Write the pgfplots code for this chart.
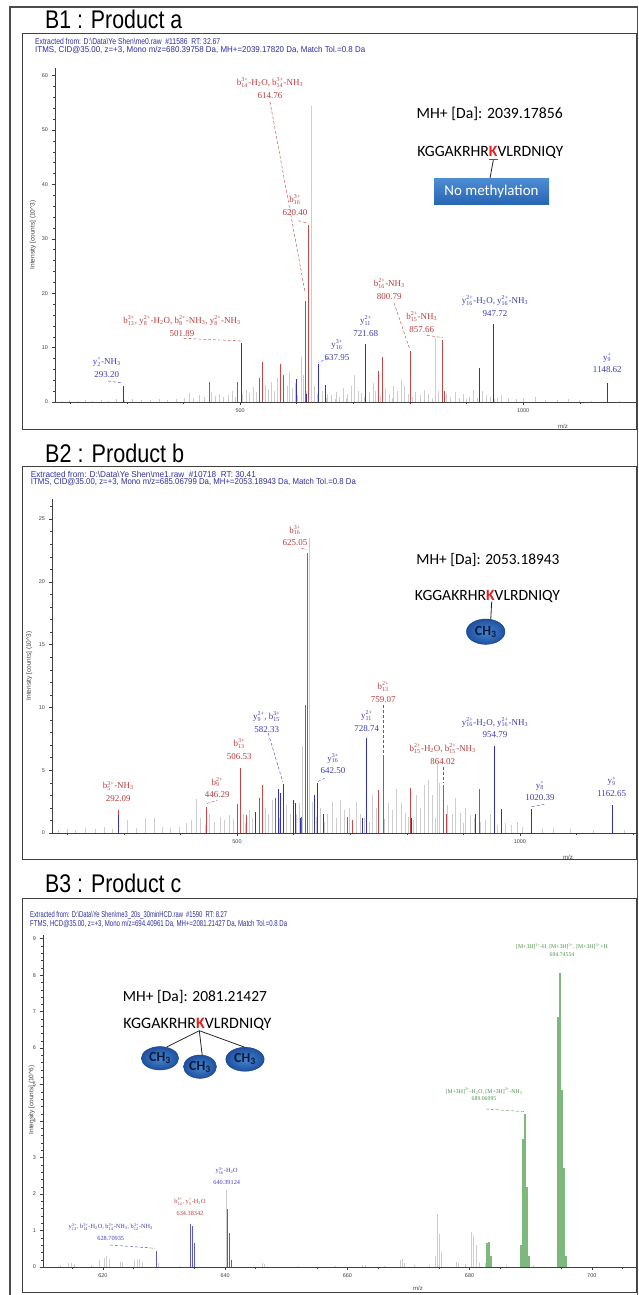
\documentclass[border=0pt]{standalone}
\usepackage{fontspec}
\setmainfont{Liberation Serif}
\newfontfamily\arial{Liberation Sans}
\newfontfamily\calib{Carlito}
\usepackage{amsmath}
\usepackage{graphicx}
\usepackage{pgfplots}
\pgfplotsset{compat=1.18}

\definecolor{lred}{RGB}{200,70,70}
\definecolor{lblue}{RGB}{50,50,185}
\definecolor{lgreen}{RGB}{125,185,125}
\definecolor{noisegray}{RGB}{205,205,205}
\definecolor{tred}{RGB}{185,60,60}
\definecolor{tblue}{RGB}{60,60,180}
\definecolor{tgreen}{RGB}{70,145,70}
\definecolor{hdr}{RGB}{45,45,160}
\definecolor{kred}{RGB}{230,30,30}
\definecolor{boxtop}{RGB}{75,140,210}
\definecolor{boxbot}{RGB}{40,100,180}
\definecolor{ellin}{RGB}{70,135,205}
\definecolor{ellout}{RGB}{30,80,160}
\definecolor{chtxt}{RGB}{15,25,60}

\newcommand\io[3]{#1$_{\text{#2}}^{\text{#3}}$}
\newcommand\HtwoO{H$_{\text{2}}$O}
\newcommand\NHthree{NH$_{\text{3}}$}
\newcommand\MH{[M+3H]$^{\text{3+}}$}

\pgfplotsset{ms/.style={scale only axis, axis lines*=left, ymin=0,
  axis line style={-,black!75,line width=0.5bp},
  tick style={black!75,line width=0.4bp}, tick align=outside,
  major tick length=3.5bp, minor tick length=2bp,
  tick label style={font=\arial\fontsize{5.5}{6}\selectfont, text=black!75},
  /pgf/number format/assume math mode=true, /pgf/number format/1000 sep={},
  anchor=south west}}

\tikzset{
 an/.style={font=\fontsize{9}{12.5}\selectfont, align=center, inner sep=0pt},
 anR/.style={an, text=tred}, anB/.style={an, text=tblue},
 an3/.style={font=\fontsize{6.3}{12.3}\selectfont, align=center, inner sep=0pt},
 ang/.style={font=\fontsize{5.8}{7.8}\selectfont, align=center, inner sep=0pt, text=tgreen},
 ld/.style={densely dashed, line width=0.4bp},
 hd/.style={anchor=west, inner sep=0pt, text=hdr},
 ell/.style={inner color=ellin, outer color=ellout, draw=ellout!80!black, line width=0.4bp},
 cht/.style={font=\calib\bfseries\fontsize{14}{14}\selectfont, text=chtxt, inner sep=0pt},
}

\begin{document}
\begin{tikzpicture}[x=1bp,y=1bp]
\useasboundingbox (0,0) rectangle (639,1295);

% ---------------- Panel 1 ----------------
\begin{axis}[ms, at={(55bp,893bp)}, width=583bp, height=334bp,
  xmin=173, xmax=1203, ymax=61.4,
  xtick={500,1000}, minor xtick={200,300,400,600,700,800,900,1100,1200},
  ytick={0,10,...,60}, minor ytick={2,4,...,60}]
\addplot[ycomb, draw=noisegray, line width=1bp] coordinates {(185,0.2)(198,0.3)(212,0.2)(226,0.3)(240,0.25)(255,0.4)(268,0.2)(282,0.5)(296,0.3)(310,0.6)(326,0.3)(342,0.4)(358,0.5)(372,0.3)(388,0.6)(402,0.8)(410,1.6)(418,0.7)(428,1.2)(437,0.9)(450,1.8)(456,1.1)(464,1.5)(471,0.9)(479,1.3)(486,2.1)(492,1.0)(505,1.4)(511,2.2)(517,1.6)(523,2.8)(529,1.9)(545,3.2)(550,2.4)(556,3.6)(561,2.0)(566,4.5)(583,3.0)(588,5.5)(593,2.5)(598,3.5)(602,1.2)(609,8.3)(612,5.0)(618,2.0)(627,54.5)(631,3.0)(636,1.5)(645,2.0)(652,0.8)(655,1.5)(662,1.2)(668,0.6)(670,1.8)(676,1.0)(683,2.5)(688,0.7)(690,1.4)(697,3.0)(703,5.0)(709,2.0)(715,1.6)(720,0.9)(728,1.8)(735,3.5)(740,2.0)(748,1.1)(757,2.4)(764,1.5)(770,0.8)(771,3.0)(778,2.0)(785,4.0)(791,3.0)(797,1.5)(804,0.9)(810,1.8)(818,1.2)(826,2.2)(833,1.5)(840,0.7)(845,11.8)(850,2.0)(858,0.9)(865,1.5)(872,1.0)(880,1.8)(888,0.8)(895,1.4)(900,0.6)(905,1.0)(912,2.2)(920,0.7)(928,2.0)(935,1.2)(942,1.0)(950,0.5)(955,0.8)(962,1.2)(975,0.7)(988,0.6)(1000,0.8)(1022,1.0)(1040,0.4)(1060,0.3)(1080,0.5)(1100,0.3)(1120,0.2)(1170,0.2)};
\addplot[ycomb, color=lred, line width=0.8bp] coordinates {(293,1.5)(445,3.7)(496,3.7)(534,4.5)(539,7.4)(571,7.0)(577,5.0)(615,18.5)(620.4,32.5)(744,5.7)(751,8.3)(800.8,9.4)(857.7,11.4)(861,2.0)};
\addplot[ycomb, color=lblue, line width=0.8bp] coordinates {(293.2,3.0)(501.9,10.8)(599,4.3)(617,1.5)(638,6.9)(650,3.1)(721.7,10.6)(922,6.3)(947.7,14.3)(1148.6,3.5)};
\end{axis}

% ---------------- Panel 2 ----------------
\begin{axis}[ms, at={(52bp,462bp)}, width=585bp, height=334bp,
  xmin=173, xmax=1207, ymax=26.6,
  xtick={500,1000}, minor xtick={200,300,400,600,700,800,900,1100,1200},
  ytick={0,5,...,25}, minor ytick={1,2,...,26}]
\addplot[ycomb, draw=noisegray, line width=1bp] coordinates {(185,0.2)(200,0.3)(215,0.2)(232,0.4)(250,0.3)(265,0.5)(280,0.3)(307,1.0)(322,0.4)(339,1.2)(354,1.2)(368,0.5)(382,0.4)(398,0.5)(410,0.8)(420,1.0)(428,2.7)(436,1.2)(445,0.6)(452,1.5)(461,0.9)(470,1.3)(478,1.0)(487,1.4)(493,1.1)(511,1.5)(515,0.8)(522,1.8)(528,1.2)(540,1.0)(550,2.0)(556,1.5)(562,2.6)(575,1.2)(588,2.2)(594,1.5)(605,1.5)(610,2.4)(616,6.9)(629,23.5)(633,2.5)(640,1.3)(647,2.0)(655,0.9)(660,1.5)(668,2.5)(675,1.2)(683,2.6)(690,1.8)(698,2.0)(705,1.0)(712,2.5)(718,1.5)(725,1.2)(735,0.9)(740,3.0)(746,2.0)(760,1.1)(768,2.4)(775,1.8)(782,3.5)(790,2.4)(797,1.6)(803,1.3)(812,1.0)(818,3.0)(825,2.0)(832,3.8)(838,4.2)(845,3.0)(850,1.2)(854,5.5)(858,4.0)(865,1.4)(872,2.2)(880,1.5)(886,2.8)(895,1.6)(900,0.8)(903,2.0)(912,1.4)(920,1.2)(930,0.9)(940,1.0)(948,1.5)(960,0.6)(975,0.8)(985,0.6)(995,0.9)(1005,0.5)(1040,0.3)(1060,0.4)(1090,0.3)(1130,0.2)(1185,0.2)};
\addplot[ycomb, color=lred, line width=0.8bp] coordinates {(289.5,1.8)(446.3,2.1)(500,2.3)(506.5,5.2)(517,1.4)(539,2.8)(545,3.8)(568,2.8)(614,1.3)(620,10.2)(625.05,22.3)(695,1.3)(704,1.0)(750,3.4)(759.07,6.2)(807,3.6)(864,3.8)(870,1.5)(928,3.5)};
\addplot[ycomb, color=lblue, line width=0.8bp] coordinates {(291,1.4)(533,1.7)(573,3.5)(577,3.2)(582.3,3.9)(599,2.6)(604,2.4)(612,1.2)(636,3.0)(642.5,4.0)(653,1.5)(721,1.2)(728.74,7.6)(808,1.2)(921,1.5)(954.8,6.9)(968,1.9)(1020.4,1.9)(1162.65,2.2)};
\end{axis}

% ---------------- Panel 3 ----------------
\begin{axis}[ms, at={(43bp,28bp)}, width=594bp, height=332bp,
  xmin=610.2, xmax=707.4, ymax=9.1,
  xtick={620,640,...,700}, minor xtick={615,625,...,705},
  ytick={0,1,...,9}, minor ytick={0.2,0.4,...,9}]
\addplot[ycomb, draw=noisegray, line width=1bp] coordinates {(613,0.05)(614.3,0.1)(614.8,0.12)(615.3,0.08)(618.2,0.05)(619.5,0.2)(620.2,0.25)(620.6,0.3)(621.1,0.22)(622.8,0.15)(623.2,0.15)(625.1,0.2)(625.6,0.18)(626.0,0.22)(626.5,0.15)(629.1,0.1)(632.5,0.04)(640.25,2.12)(646.1,0.1)(646.4,0.08)(652,0.03)(658,0.04)(662.5,0.05)(663,0.05)(666,0.04)(668.7,0.2)(669.0,0.22)(669.3,0.1)(671,0.05)(673.5,0.05)(674.5,0.3)(674.7,1.45)(675.0,0.9)(675.4,0.4)(677.8,0.15)(678.2,0.12)(679.3,0.08)(680.3,0.95)(680.7,0.85)(681.1,0.6)(681.6,0.15)(682.6,0.1)(683.6,0.1)(686,0.05)(690.5,0.05)};
\addplot[ycomb, color=lblue!80, line width=1.2bp] coordinates {(628.71,0.45)(634.38,1.17)(634.72,1.12)(635.05,0.65)(640.39,1.6)(640.72,0.93)(641.05,0.2)};
\addplot[ycomb, color=lgreen, line width=1.8bp] coordinates {(682.9,0.65)(683.2,0.68)(683.5,0.3)(688.4,0.6)(688.73,3.5)(689.07,4.2)(689.4,2.2)(689.73,0.3)(694.41,6.85)(694.75,8.05)(695.08,4.85)(695.41,2.7)(695.75,0.3)};
\end{axis}

% ---------------- Annotations (image pixel coordinates) ----------------
\begin{scope}[x=1bp,y=-1bp,yshift=1295bp]
% frames
\draw[line width=1.3bp, black!70] (10,1300) -- (10,7) -- (637.5,7) -- (637.5,1300);
\draw[line width=1bp, black!75] (22,34) rectangle (636,430);
\draw[line width=1bp, black!75] (22,467) rectangle (636,860);
\draw[line width=1bp, black!75] (22,899) rectangle (636,1293);
% titles
\node[anchor=base west, inner sep=0pt] at (45,29) {\resizebox{137bp}{18.5bp}{\arial B1 : Product a}};
\node[anchor=base west, inner sep=0pt] at (45,463) {\resizebox{139bp}{18.5bp}{\arial B2 : Product b}};
\node[anchor=base west, inner sep=0pt] at (45,893) {\resizebox{136bp}{18.5bp}{\arial B3 : Product c}};
% headers
\node[hd] at (35,41.3) {\resizebox{185bp}{6.2bp}{\arial Extracted from: D:\textbackslash Data\textbackslash Ye Shen\textbackslash me0.raw \ \#11586 \ RT: 32.67}};
\node[hd] at (35,50.3) {\resizebox{330bp}{6.2bp}{\arial ITMS, CID@35.00, z=+3, Mono m/z=680.39758 Da, MH+=2039.17820 Da, Match Tol.=0.8 Da}};
\node[hd] at (30.7,474) {\resizebox{225bp}{6.2bp}{\arial Extracted from: D:\textbackslash Data\textbackslash Ye Shen\textbackslash me1.raw \ \#10718 \ RT: 30.41}};
\node[hd] at (30.7,482.5) {\resizebox{325bp}{6.2bp}{\arial ITMS, CID@35.00, z=+3, Mono m/z=685.06799 Da, MH+=2053.18943 Da, Match Tol.=0.8 Da}};
\node[hd] at (30,915) {\resizebox{197bp}{6.2bp}{\arial Extracted from: D:\textbackslash Data\textbackslash Ye Shen\textbackslash me3\_20s\_30minHCD.raw \ \#1590 \ RT: 8.27}};
\node[hd] at (30,924) {\resizebox{257bp}{6.2bp}{\arial FTMS, HCD@35.00, z=+3, Mono m/z=694.40961 Da, MH+=2081.21427 Da, Match Tol.=0.8 Da}};
% axis labels
\node[rotate=90, font=\arial\fontsize{6.5}{7}\selectfont, text=black!75] at (33,235) {Intensity [counts] (10\textasciicircum 3)};
\node[rotate=90, font=\arial\fontsize{6.5}{7}\selectfont, text=black!75] at (29.3,666) {Intensity [counts] (10\textasciicircum 3)};
\node[rotate=90, font=\arial\fontsize{6.5}{7}\selectfont, text=black!75] at (31.7,1100) {Intensity [counts] (10\textasciicircum 6)};
\node[font=\arial\fontsize{6}{7}\selectfont, text=black!75] at (563,426) {m/z};
\node[font=\arial\fontsize{6}{7}\selectfont, text=black!75] at (568,857) {m/z};
\node[font=\arial\fontsize{6}{7}\selectfont, text=black!75] at (418,1288) {m/z};

% panel 1 annotations
\node[anR] at (270,88) {\io{b}{14}{3+}-\HtwoO, \io{b}{14}{3+}-\NHthree\\614.76};
\draw[ld, tred] (270,101.7) -- (305,292);
\node[anR] at (295,205) {\io{b}{16}{3+}\\620.40};
\draw[ld, tred] (298.3,220.7) -- (308.3,223.3);
\node[anR] at (182,326) {\io{b}{13}{3+}, \io{y}{8}{2+}-\HtwoO, \io{b}{8}{2+}-\NHthree, \io{y}{8}{2+}-\NHthree\\501.89};
\draw[ld, tred] (183.3,338.3) -- (240.7,341);
\node[anB] at (106.7,367.3) {\io{y}{2}{+}-\NHthree\\293.20};
\draw[ld, tblue] (108,381) -- (122.3,383);
\node[anB] at (337,350) {\io{y}{16}{3+}\\637.95};
\draw[ld, tblue] (328,358) -- (318,363);
\node[anB] at (365.7,326) {\io{y}{11}{2+}\\721.68};
\node[anR] at (389.3,289) {\io{b}{16}{2+}-\NHthree\\800.79};
\draw[ld, tred] (394,302.7) -- (410,350);
\node[anR] at (421.7,322) {\io{b}{15}{2+}-\NHthree\\857.66};
\draw[ld, tred] (426.7,335.3) -- (442.7,337.7);
\node[anB] at (495,306) {\io{y}{16}{2+}-\HtwoO, \io{y}{16}{2+}-\NHthree\\947.72};
\node[anB] at (607.3,363) {\io{y}{9}{+}\\1148.62};
\node at (489.7,114.3) {\resizebox{146bp}{!}{\calib MH+ [Da]: 2039.17856}};
\node at (490.3,153.3) {\resizebox{146bp}{!}{\calib KGGAKRHR\textcolor{kred}{\underline{\textbf{K}}}VLRDNIQY}};
\draw[line width=0.8bp, black!85] (493.3,160) -- (490,178.3);
\shade[top color=boxtop, bottom color=boxbot] (434,179) rectangle (549,205);
\node[text=white, font=\calib\fontsize{15}{15}\selectfont] at (491.5,192) {No methylation};

% panel 2 annotations
\node[anR] at (295,535.5) {\io{b}{16}{3+}\\625.05};
\draw[ld, tred] (301.7,548.3) -- (307.3,550);
\node[anB] at (266.7,722) {\io{y}{9}{2+}, \io{b}{15}{3+}\\582.33};
\draw[ld, tblue] (268.3,733.3) -- (282.7,781.7);
\node[anR] at (239.3,749) {\io{b}{13}{3+}\\506.53};
\node[anR] at (217.3,787.5) {\io{b}{9}{2+}\\446.29};
\draw[ld, tred] (206.7,803.5) -- (217.3,800.5);
\node[anR] at (118.3,791.3) {\io{b}{5}{3+}-\NHthree\\292.09};
\node[anB] at (333,763.5) {\io{y}{16}{3+}\\642.50};
\draw[ld, tblue] (325,778) -- (318,781.5);
\node[anB] at (366.7,721) {\io{y}{11}{2+}\\728.74};
\node[anR] at (383.3,692) {\io{b}{13}{2+}\\759.07};
\draw[ld, tred] (383.3,705) -- (383.3,753);
\node[anR] at (442.7,754) {\io{b}{15}{2+}-\HtwoO, \io{b}{15}{2+}-\NHthree\\864.02};
\draw[ld, tred] (442.7,766.7) -- (442.7,783.3);
\node[anB] at (495,727.5) {\io{y}{16}{2+}-\HtwoO, \io{y}{16}{2+}-\NHthree\\954.79};
\node[anB] at (540,791) {\io{y}{8}{+}\\1020.39};
\draw[ld, tblue] (531.7,806.7) -- (545,804.3);
\node[anB] at (611.7,786.7) {\io{y}{9}{+}\\1162.65};
\node at (488,560) {\resizebox{143bp}{!}{\calib MH+ [Da]: 2053.18943}};
\node at (487.5,596) {\resizebox{145bp}{!}{\calib KGGAKRHR\textcolor{kred}{\textbf{K}}VLRDNIQY}};
\draw[line width=0.8bp, black!85] (491.7,601.7) -- (490.7,620);
\shade[ell] (485.7,631.7) ellipse [x radius=19.3, y radius=12.7];
\node[cht] at (485.7,631.7) {CH$_{\text{3}}$};

% panel 3 annotations
\node[an3, text=tblue] at (110.8,1232) {\io{y}{13}{3+}, \io{b}{14}{3+}-\HtwoO, \io{b}{14}{3+}-\NHthree, \io{b}{12}{3+}-\NHthree\\628.70935};
\draw[ld, tblue] (110,1245) -- (155,1248.3);
\node[an3, text=tred] at (190,1206.7) {\io{b}{14}{3+}, \io{y}{5}{+}-\HtwoO\\634.38342};
\node[an3, text=tblue] at (226.7,1176) {\io{y}{16}{3+}-\HtwoO\\640.39124};
\node[ang] at (484,1094.5) {\MH-\HtwoO, \MH-\NHthree\\689.06995};
\draw[ld, tgreen] (486,1109) -- (525,1111.7);
\node[ang] at (562,950.3) {\MH-H, \MH, \MH+H\\694.74554};
\node at (195,996.7) {\resizebox{144bp}{!}{\calib MH+ [Da]: 2081.21427}};
\node at (197.5,1024.3) {\resizebox{148bp}{!}{\calib KGGAKRHR\textcolor{kred}{\textbf{K}}VLRDNIQY}};
\draw[line width=0.8bp, black!85] (199.3,1030.7) -- (166.7,1047);
\draw[line width=0.8bp, black!85] (199.3,1030.7) -- (202.3,1056);
\draw[line width=0.8bp, black!85] (199.3,1030.7) -- (246.7,1048);
\shade[ell] (160,1058.3) ellipse [x radius=18.7, y radius=11.7];
\shade[ell] (200,1066.7) ellipse [x radius=16.5, y radius=11.7];
\shade[ell] (245,1059.3) ellipse [x radius=19.2, y radius=12];
\node[cht] at (160,1058.3) {CH$_{\text{3}}$};
\node[cht] at (200,1066.7) {CH$_{\text{3}}$};
\node[cht] at (245,1059.3) {CH$_{\text{3}}$};
\end{scope}
\end{tikzpicture}
\end{document}
